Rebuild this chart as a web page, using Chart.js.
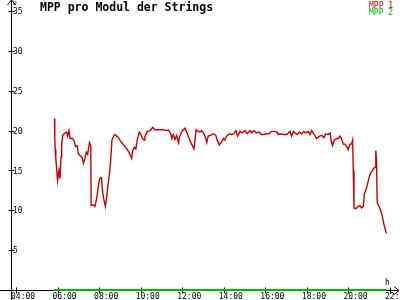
<!DOCTYPE html>
<html>
<head>
<meta charset="utf-8">
<script src="https://cdn.jsdelivr.net/npm/chart.js@4/dist/chart.umd.min.js"></script>
<style>
    html, body { margin: 0; padding: 0; background: #fff; }
    #chart { display: block; }
</style>
</head>
<body>
<canvas id="chart" width="400" height="300"></canvas>
<script>
// Data
const times = [
    '05:51', '05:52', '05:53', '05:55', '05:58', '06:00', '06:04', '06:07', '06:10', '06:12',
    '06:15', '06:21', '06:26', '06:29', '06:33', '06:36', '06:43', '06:48', '06:52', '06:57',
    '07:00', '07:06', '07:11', '07:15', '07:19', '07:23', '07:27', '07:32', '07:36', '07:37',
    '07:43', '07:48', '07:53', '07:58', '08:02', '08:07', '08:10', '08:14', '08:18', '08:22',
    '08:26', '08:31', '08:34', '08:37', '08:42', '08:46', '08:54', '09:05', '09:17', '09:26',
    '09:34', '09:37', '09:42', '09:46', '09:50', '09:56', '10:01', '10:05', '10:10', '10:12',
    '10:19', '10:27', '10:35', '10:41', '10:51', '11:05', '11:15', '11:20', '11:27', '11:30',
    '11:34', '11:39', '11:44', '11:49', '11:53', '11:58', '12:03', '12:08', '12:13', '12:20',
    '12:27', '12:34', '12:37', '12:40', '12:46', '12:51', '12:56', '13:03', '13:08', '13:11',
    '13:15', '13:22', '13:30', '13:37', '13:41', '13:47', '13:54', '13:59', '14:03', '14:08',
    '14:16', '14:23', '14:29', '14:35', '14:40', '14:47', '14:54', '15:01', '15:08', '15:16',
    '15:20', '15:27', '15:35', '15:42', '15:49', '15:56', '16:04', '16:11', '16:18', '16:28',
    '16:34', '16:37', '16:42', '16:52', '17:02', '17:11', '17:16', '17:21', '17:26', '17:32',
    '17:38', '17:45', '17:51', '17:57', '18:04', '18:09', '18:14', '18:20', '18:28', '18:36',
    '18:43', '18:49', '18:55', '19:02', '19:07', '19:11', '19:14', '19:19', '19:26', '19:31',
    '19:35', '19:40', '19:45', '19:50', '19:55', '19:59', '20:04', '20:09', '20:12', '20:14',
    '20:16', '20:22', '20:28', '20:33', '20:38', '20:43', '20:46', '20:50', '20:54', '20:59',
    '21:04', '21:09', '21:14', '21:17', '21:19', '21:21', '21:23', '21:28', '21:33', '21:38',
    '21:42', '21:47', '21:50'
];
const mpp1 = [
    21.5, 19.2, 17.7, 16.5, 14.8, 13.7, 15.0, 14.0, 16.7, 18.3,
    19.4, 19.7, 19.8, 19.3, 20.0, 19.0, 19.0, 18.7, 18.0, 18.1,
    17.1, 16.8, 16.6, 15.9, 16.5, 17.3, 17.0, 18.5, 18.1, 10.6,
    10.7, 10.5, 11.5, 13.1, 14.0, 14.1, 12.3, 11.3, 10.5, 11.7,
    13.3, 15.0, 16.7, 18.8, 19.3, 19.5, 19.2, 18.5, 17.9, 17.3,
    16.5, 17.5, 17.9, 17.7, 18.8, 19.8, 19.5, 19.0, 18.8, 19.2,
    19.9, 20.0, 20.4, 20.1, 20.1, 20.1, 20.0, 20.1, 19.6, 19.0,
    19.5, 18.9, 19.4, 18.5, 19.3, 19.8, 20.1, 20.3, 19.8, 19.0,
    18.3, 17.7, 18.8, 20.1, 19.9, 19.8, 20.0, 19.6, 19.0, 18.5,
    19.3, 19.4, 19.6, 19.4, 18.8, 18.2, 18.6, 19.0, 18.8, 19.3,
    19.6, 19.5, 19.6, 20.0, 19.3, 19.9, 19.7, 20.0, 19.6, 20.0,
    19.7, 20.0, 19.7, 19.8, 19.5, 19.5, 19.6, 19.6, 19.9, 19.9,
    19.8, 19.5, 19.6, 19.5, 19.5, 19.9, 19.3, 19.9, 19.7, 19.5,
    19.8, 19.6, 19.9, 19.7, 19.9, 19.5, 20.0, 19.6, 19.0, 19.3,
    19.4, 19.1, 19.6, 19.5, 19.7, 18.5, 18.1, 18.8, 19.0, 19.0,
    19.3, 19.0, 18.3, 18.3, 18.0, 17.6, 18.3, 18.3, 18.8, 15.0,
    10.3, 10.2, 10.5, 10.6, 10.3, 10.5, 12.1, 12.5, 13.1, 14.0,
    14.7, 15.0, 15.3, 15.4, 17.5, 16.3, 11.0, 10.5, 10.0, 9.2,
    8.3, 7.5, 7.1
];
const mpp2Times = ['05:51', '21:50'];
const mpp2 = [0, 0];
const xTicks = ['04:00', '06:00', '08:00', '10:00', '12:00', '14:00', '16:00', '18:00', '20:00', '22:00'];
const yTicks = [5, 10, 15, 20, 25, 30, 35];

const RED = '#c80000';
const GREEN = '#00b400';
const MONO = '"DejaVu Sans Mono", "Liberation Mono", monospace';

function toHours(t) {
    const [h, m] = t.split(':').map(Number);
    return h + m / 60;
}

function toPoints(ts, vals) {
    return ts.map((t, i) => ({ x: toHours(t), y: vals[i] }));
}

// Axes, ticks and labels drawn from the chart's own scales
const axesPlugin = {
    id: 'axes',
    beforeDatasetsDraw(chart) {
        const { ctx, scales: { x, y } } = chart;
        const x0 = Math.round(x.getPixelForValue(toHours('04:00') - 0.25)) + 0.5;
        const y0 = Math.round(y.getPixelForValue(0)) + 0.5;

        ctx.save();
        ctx.strokeStyle = '#000';
        ctx.lineWidth = 1;

        // axis lines
        ctx.beginPath();
        ctx.moveTo(0, y0);
        ctx.lineTo(399, y0);
        ctx.moveTo(x0, 300);
        ctx.lineTo(x0, 0);
        ctx.stroke();

        // arrows
        ctx.beginPath();
        ctx.moveTo(394, y0 - 4);
        ctx.lineTo(399, y0);
        ctx.lineTo(394, y0 + 4);
        ctx.moveTo(x0 - 4, 5);
        ctx.lineTo(x0, 0);
        ctx.lineTo(x0 + 4, 5);
        ctx.stroke();

        // ticks
        ctx.beginPath();
        xTicks.forEach(t => {
            const px = Math.round(x.getPixelForValue(toHours(t))) + 0.5;
            ctx.moveTo(px, y0 - 3);
            ctx.lineTo(px, y0 + 3);
        });
        yTicks.forEach(v => {
            const py = Math.round(y.getPixelForValue(v)) + 0.5;
            ctx.moveTo(x0 - 3, py);
            ctx.lineTo(x0 + 3, py);
        });
        ctx.stroke();
        ctx.restore();
    },
    afterDraw(chart) {
        const { ctx, scales: { x, y } } = chart;
        const x0 = Math.round(x.getPixelForValue(toHours('04:00') - 0.25));
        const y0 = Math.round(y.getPixelForValue(0));

        ctx.save();
        ctx.fillStyle = '#000';
        ctx.font = '8px ' + MONO;

        ctx.textAlign = 'left';
        ctx.textBaseline = 'top';
        xTicks.forEach(t => {
            const px = x.getPixelForValue(toHours(t));
            ctx.fillText(t, px - 5, y0 + 3);
        });

        ctx.textBaseline = 'middle';
        yTicks.forEach(v => {
            const py = y.getPixelForValue(v);
            ctx.fillText(String(v), x0 + 2, py + 1);
        });

        // axis units
        ctx.textBaseline = 'alphabetic';
        ctx.fillText('h', 385, y0 - 5);
        ctx.font = '6px ' + MONO;
        ctx.fillText('U', x0 + 2, 5);

        // title
        ctx.font = 'bold 11.5px ' + MONO;
        ctx.fillText('MPP pro Modul der Strings', 40, 11);

        // legend
        ctx.font = '8px ' + MONO;
        ctx.fillStyle = RED;
        ctx.fillText('MPP 1', 369, 8);
        ctx.fillStyle = GREEN;
        ctx.fillText('MPP 2', 369, 15);
        ctx.restore();
    }
};

new Chart(document.getElementById('chart'), {
    type: 'line',
    data: {
        datasets: [
            {
                label: 'MPP 2',
                data: toPoints(mpp2Times, mpp2),
                borderColor: GREEN,
                borderWidth: 2,
                pointRadius: 0,
                tension: 0
            },
            {
                label: 'MPP 1',
                data: toPoints(times, mpp1),
                borderColor: RED,
                borderWidth: 1.4,
                pointRadius: 0,
                tension: 0
            }
        ]
    },
    options: {
        responsive: false,
        animation: false,
        layout: { padding: 0 },
        plugins: {
            legend: { display: false },
            title: { display: false },
            tooltip: { enabled: false }
        },
        scales: {
            x: { type: 'linear', min: 3.23, max: 22.481, display: false },
            y: { type: 'linear', min: -1.2546, max: 36.38, display: false }
        }
    },
    plugins: [axesPlugin]
});
</script>
</body>
</html>
